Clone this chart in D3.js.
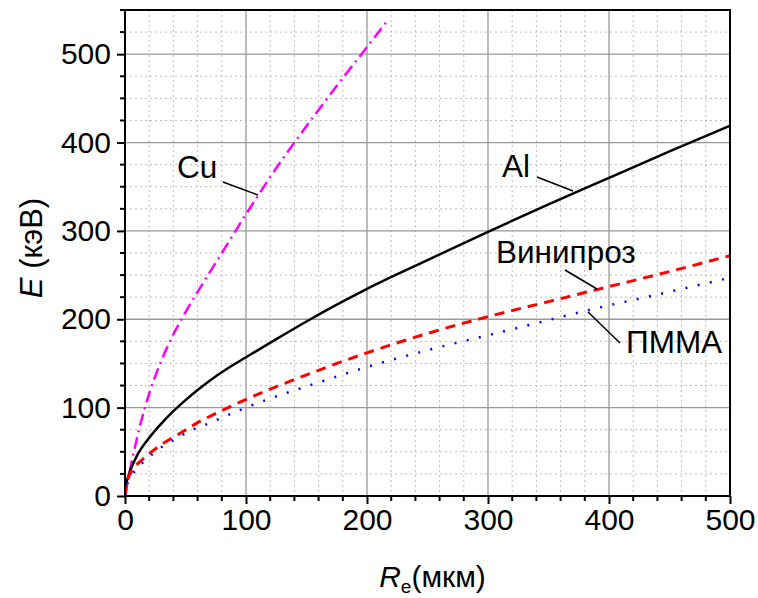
<!DOCTYPE html>
<html>
<head>
<meta charset="utf-8">
<script src="https://cdn.jsdelivr.net/npm/d3@7"></script>
<style>
  body { margin: 0; background: #fff; }
  text { font-family: "Liberation Sans", Arial, sans-serif; fill: #000; }
</style>
</head>
<body>
<svg id="chart" width="758" height="598"></svg>
<script>
// range R (um) vs energy E (keV) for each material
var cuPoints = [[0,0],[3,22],[6,42],[10,66],[15,93],[21,120],[30,153],[40,183],[50,208],[60,231],[70,253],[80,275],[90,297],[100,319],[110,340],[120,361],[140,400],[160,437],[180,473],[200,508],[218,540]];
var alPoints = [[0,0],[0.5,11],[2,19],[5,31],[10,46],[20,66],[30,82],[40,96],[50,108.5],[60,120],[70,130.5],[85,144.5],[100,157],[125,177.5],[150,197.5],[175,216.5],[200,234.5],[250,267],[300,299],[350,330],[400,360],[450,390],[500,419]];
var vinPoints = [[0,0],[2,17],[5,27],[10,36],[15,42],[20,48],[31,59],[48,73],[60,83],[76,94],[93,105],[120,121],[150,137],[175,150],[200,162],[250,184],[300,203],[350,220],[400,237],[450,254],[500,272]];
var pmmaPoints = [[0,0],[1.5,13],[3,16],[8,28],[15,38],[31,56],[41,64],[59,77],[69,82],[79,88],[98,99],[130,115],[159,128],[200,146],[250,165],[300,182],[350,199],[385,211],[440,228],[500,247]];

var xTicks = [0, 100, 200, 300, 400, 500];
var yTicks = [0, 100, 200, 300, 400, 500];
var xMinor = d3.range(0, 501, 20);
var yMinor = d3.range(0, 551, 25);

var margin = {left: 125, top: 10, right: 28, bottom: 102};
var width = 758 - margin.left - margin.right,
    height = 598 - margin.top - margin.bottom;

var svg = d3.select("#chart");
var g = svg.append("g").attr("transform", "translate(" + margin.left + "," + margin.top + ")");

var x = d3.scaleLinear().domain([0, 500]).range([0, width]);
var y = d3.scaleLinear().domain([0, 550]).range([height, 0]);

// minor grid (dotted)
g.selectAll(".xminor").data(xMinor.filter(function (d) { return d % 100 !== 0; }))
  .enter().append("line")
  .attr("x1", x).attr("x2", x).attr("y1", 0).attr("y2", height)
  .attr("stroke", "#bdbdbd").attr("stroke-width", 1).attr("stroke-dasharray", "2,3");
g.selectAll(".yminor").data(yMinor.filter(function (d) { return d % 100 !== 0; }))
  .enter().append("line")
  .attr("y1", y).attr("y2", y).attr("x1", 0).attr("x2", width)
  .attr("stroke", "#bdbdbd").attr("stroke-width", 1).attr("stroke-dasharray", "2,3");

// major grid
g.selectAll(".xmajor").data(xTicks.slice(1, -1))
  .enter().append("line")
  .attr("x1", x).attr("x2", x).attr("y1", 0).attr("y2", height)
  .attr("stroke", "#999").attr("stroke-width", 1.3);
g.selectAll(".ymajor").data(yTicks.slice(1))
  .enter().append("line")
  .attr("y1", y).attr("y2", y).attr("x1", 0).attr("x2", width)
  .attr("stroke", "#999").attr("stroke-width", 1.3);

// axes
var xAxis = d3.axisBottom(x).tickValues(xTicks).tickSize(8).tickPadding(5);
var yAxis = d3.axisLeft(y).tickValues(yTicks).tickSize(8).tickPadding(6);

var gx = g.append("g").attr("transform", "translate(0," + height + ")").call(xAxis);
var gy = g.append("g").call(yAxis);
[gx, gy].forEach(function (ax) {
  ax.select(".domain").remove();
  ax.selectAll("line").attr("stroke", "#000").attr("stroke-width", 2);
  ax.selectAll("text").style("font-size", "30px").attr("font-family", "Liberation Sans, Arial, sans-serif");
});

// minor ticks
g.append("g").selectAll("line").data(xMinor.filter(function (d) { return d % 100 !== 0; }))
  .enter().append("line")
  .attr("x1", x).attr("x2", x).attr("y1", height).attr("y2", height + 5)
  .attr("stroke", "#000").attr("stroke-width", 2);
g.append("g").selectAll("line").data(yMinor.filter(function (d) { return d % 100 !== 0; }))
  .enter().append("line")
  .attr("y1", y).attr("y2", y).attr("x1", 0).attr("x2", -5)
  .attr("stroke", "#000").attr("stroke-width", 2);

// curves
g.append("clipPath").attr("id", "clip").append("rect")
  .attr("width", width).attr("height", height);

var line = d3.line()
  .x(function (d) { return x(d[0]); })
  .y(function (d) { return y(d[1]); })
  .curve(d3.curveMonotoneX);

var series = [
  {data: cuPoints, color: "#ff00ff", width: 2.5, dash: "12,5,2,5"},
  {data: alPoints, color: "#000000", width: 2.5, dash: null},
  {data: vinPoints, color: "#ff0000", width: 3, dash: "10,7"},
  {data: pmmaPoints, color: "#0000ff", width: 2.5, dash: "2,10.5"}
];
var curves = g.append("g").attr("clip-path", "url(#clip)");
series.forEach(function (s) {
  curves.append("path").datum(s.data)
    .attr("d", line)
    .attr("fill", "none")
    .attr("stroke", s.color)
    .attr("stroke-width", s.width)
    .attr("stroke-dasharray", s.dash);
});

// frame
g.append("rect").attr("width", width).attr("height", height)
  .attr("fill", "none").attr("stroke", "#000").attr("stroke-width", 2);

// labels with pointer lines
var labels = [
  {text: "Cu", tx: 177, ty: 178, from: [223, 182], to: [258, 195]},
  {text: "Al", tx: 502, ty: 177, from: [537, 177], to: [573, 191]},
  {text: "Винипроз", tx: 496, ty: 263, from: [565, 270], to: [597, 289]},
  {text: "ПММА", tx: 626, ty: 353, from: [588, 312], to: [620, 343]}
];
labels.forEach(function (l) {
  svg.append("text").attr("x", l.tx).attr("y", l.ty)
    .style("font-size", "31.5px").text(l.text);
  svg.append("line")
    .attr("x1", l.from[0]).attr("y1", l.from[1])
    .attr("x2", l.to[0]).attr("y2", l.to[1])
    .attr("stroke", "#000").attr("stroke-width", 1.5);
});

// axis titles
var yTitle = svg.append("text")
  .attr("transform", "translate(42," + (margin.top + height / 2 - 5) + ") rotate(-90)")
  .attr("text-anchor", "middle")
  .style("font-size", "31px");
yTitle.append("tspan").style("font-style", "italic").text("E");
yTitle.append("tspan").text(" (кэВ)");

var xTitle = svg.append("text")
  .attr("x", margin.left + width / 2 + 5).attr("y", 587)
  .attr("text-anchor", "middle")
  .style("font-size", "30px");
xTitle.append("tspan").style("font-style", "italic").text("R");
xTitle.append("tspan").attr("dy", 6).style("font-size", "19px").text("e");
xTitle.append("tspan").attr("dy", -6).text("(мкм)");
</script>
</body>
</html>
